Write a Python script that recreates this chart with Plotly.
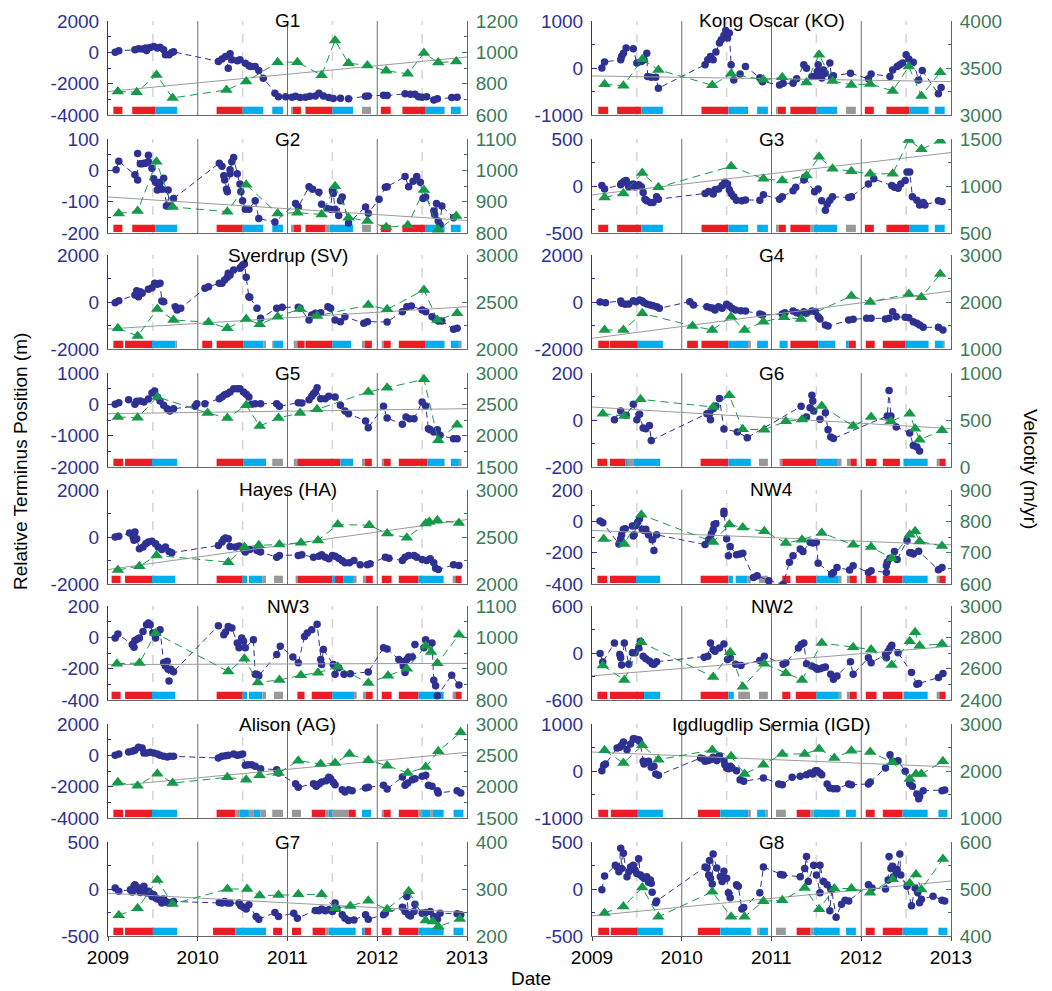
import plotly.graph_objects as go

# ---------------------------------------------------------------------------
# Data: relative terminus position (m) and surface velocity (m/yr) per glacier.
# Times are decimal years. Seasons: R = red, B = blue, G = gray bands.
# ---------------------------------------------------------------------------
R, B, G = "R", "B", "G"

G1_POS = [(2009.08, 0), (2009.12, 100), (2009.30, 160), (2009.34, 230), (2009.38, 210), (2009.42, 270),
          (2009.43, 120), (2009.47, 310), (2009.51, 380), (2009.55, 270), (2009.58, 330), (2009.62, 160),
          (2009.64, -160), (2009.68, -160), (2009.71, -10), (2009.73, 30), (2010.23, -580), (2010.27, -430),
          (2010.31, -260), (2010.34, -1010), (2010.36, -90), (2010.38, -480), (2010.44, -540), (2010.47, -480),
          (2010.53, -690), (2010.57, -860), (2010.59, -900), (2010.64, -900), (2010.68, -1160), (2010.73, -1650),
          (2010.86, -2610), (2010.90, -2830), (2010.98, -2830), (2011.05, -2870), (2011.09, -2800),
          (2011.14, -2890), (2011.20, -2870), (2011.25, -2800), (2011.31, -2780), (2011.35, -2610),
          (2011.40, -2780), (2011.46, -2890), (2011.51, -2950), (2011.59, -2930), (2011.68, -2970),
          (2011.87, -2800), (2011.90, -2780), (2012.07, -2740), (2012.11, -2760), (2012.31, -2650),
          (2012.37, -2680), (2012.42, -2680), (2012.46, -2830), (2012.50, -2870), (2012.55, -2830),
          (2012.63, -3040), (2012.67, -2970), (2012.83, -2890), (2012.89, -2870)]
G1_VEL = [(2009.11, 750), (2009.32, 745), (2009.54, 856), (2009.72, 709), (2010.32, 760), (2010.54, 814),
          (2010.89, 937), (2011.11, 937), (2011.38, 854), (2011.53, 1076), (2011.68, 931), (2011.89, 916),
          (2012.10, 882), (2012.34, 863), (2012.52, 995), (2012.68, 935), (2012.88, 942)]
G1_TREND = [750, 970]
G1_SEASONS = [(2009.06, 2009.16, R), (2009.27, 2009.53, R), (2009.53, 2009.77, B), (2010.21, 2010.50, R),
              (2010.50, 2010.73, B), (2010.83, 2010.95, B), (2011.04, 2011.06, G), (2011.06, 2011.15, R),
              (2011.20, 2011.50, R), (2011.50, 2011.73, B), (2011.83, 2011.93, G), (2012.04, 2012.15, R),
              (2012.28, 2012.54, R), (2012.54, 2012.75, B), (2012.82, 2012.93, B)]

KO_POS = [(2009.11, 0), (2009.14, 130), (2009.32, 175), (2009.33, 245), (2009.35, 315), (2009.38, 425),
          (2009.46, 410), (2009.50, 105), (2009.55, 140), (2009.58, 175), (2009.61, 315), (2009.62, -180),
          (2009.66, -195), (2009.71, -195), (2009.74, -430), (2010.26, 70), (2010.29, 175), (2010.32, 245),
          (2010.35, 175), (2010.38, 340), (2010.42, 530), (2010.44, 600), (2010.47, 690), (2010.49, 800),
          (2010.51, 640), (2010.53, 745), (2010.55, 70), (2010.58, -255), (2010.65, -130), (2010.71, 30),
          (2010.87, -205), (2010.90, -290), (2011.09, -360), (2011.13, -325), (2011.24, -325), (2011.28, -230),
          (2011.36, 70), (2011.39, -5), (2011.45, -180), (2011.49, -180), (2011.51, -75), (2011.52, 70),
          (2011.54, -95), (2011.56, -215), (2011.58, -40), (2011.60, -110), (2011.65, 105), (2011.67, -205),
          (2011.69, -165), (2011.88, -110), (2012.08, -230), (2012.11, -125), (2012.32, -180), (2012.35, -40),
          (2012.40, 30), (2012.43, 70), (2012.46, 105), (2012.50, 280), (2012.53, 190), (2012.58, 125),
          (2012.64, -255), (2012.68, -55), (2012.86, -550), (2012.89, -415)]
KO_VEL = [(2009.14, 3327), (2009.35, 3310), (2009.56, 3594), (2009.74, 3480), (2010.34, 3317), (2010.55, 3438),
          (2010.91, 3374), (2011.12, 3402), (2011.39, 3345), (2011.53, 3641), (2011.68, 3363), (2011.89, 3320),
          (2012.10, 3331), (2012.35, 3256), (2012.53, 3516), (2012.67, 3203), (2012.88, 3455)]
KO_TREND = [3416, 3356]
KO_SEASONS = [(2009.07, 2009.18, R), (2009.28, 2009.55, R), (2009.55, 2009.79, B), (2010.22, 2010.52, R),
              (2010.52, 2010.74, B), (2010.84, 2010.96, B), (2011.05, 2011.07, G), (2011.07, 2011.16, R),
              (2011.21, 2011.50, R), (2011.50, 2011.73, B), (2011.83, 2011.94, G), (2012.04, 2012.14, R),
              (2012.28, 2012.54, R), (2012.54, 2012.75, B), (2012.82, 2012.93, B)]

G2_POS = [(2009.09, 2), (2009.12, 29), (2009.30, -14), (2009.33, -31), (2009.33, 54), (2009.36, 21),
          (2009.38, 21), (2009.40, 23), (2009.42, 23), (2009.45, 48), (2009.45, 27), (2009.49, 7),
          (2009.51, -27), (2009.53, -38), (2009.55, -63), (2009.56, -44), (2009.58, -38), (2009.60, -60),
          (2009.62, -25), (2009.65, -114), (2009.67, -63), (2009.68, -114), (2009.73, -90), (2010.24, 23),
          (2010.27, 13), (2010.29, -17), (2010.30, -31), (2010.32, -60), (2010.33, -68), (2010.36, -11),
          (2010.36, 2), (2010.38, 27), (2010.40, 41), (2010.44, -11), (2010.47, -44), (2010.48, -68),
          (2010.50, -97), (2010.53, -124), (2010.57, -124), (2010.64, -97), (2010.68, -154), (2010.86, -165),
          (2011.09, -106), (2011.12, -117), (2011.24, -52), (2011.28, -60), (2011.35, -70), (2011.38, -108),
          (2011.44, -122), (2011.48, -124), (2011.50, -65), (2011.51, -74), (2011.53, -124), (2011.57, -144),
          (2011.59, -97), (2011.61, -85), (2011.68, -168), (2011.87, -117), (2011.90, -137), (2012.02, -92),
          (2012.09, -54), (2012.11, -52), (2012.31, -20), (2012.35, -52), (2012.40, -35), (2012.44, -20),
          (2012.48, -38), (2012.51, -90), (2012.54, -85), (2012.63, -130), (2012.64, -141), (2012.66, -106),
          (2012.68, -162), (2012.70, -173), (2012.72, -114), (2012.85, -151)]
G2_VEL = [(2009.12, 862), (2009.33, 870), (2009.54, 1027), (2009.72, 883), (2010.33, 868), (2010.54, 954),
          (2010.89, 862), (2011.11, 865), (2011.38, 859), (2011.53, 949), (2011.68, 849), (2011.89, 838),
          (2012.10, 818), (2012.34, 825), (2012.52, 937), (2012.68, 810), (2012.88, 854)]
G2_TREND = [915, 840]
G2_SEASONS = [(2009.06, 2009.16, R), (2009.27, 2009.53, R), (2009.53, 2009.77, B), (2010.21, 2010.50, R),
              (2010.50, 2010.73, B), (2010.83, 2010.95, B), (2011.04, 2011.07, G), (2011.07, 2011.15, R),
              (2011.20, 2011.42, R), (2011.42, 2011.47, G), (2011.47, 2011.73, B), (2011.83, 2011.93, G),
              (2012.04, 2012.15, R), (2012.28, 2012.54, R), (2012.54, 2012.75, B), (2012.82, 2012.93, B)]

G3_POS = [(2009.11, 4), (2009.14, -32), (2009.32, 14), (2009.33, 29), (2009.36, 50), (2009.38, 58),
          (2009.40, 22), (2009.41, -7), (2009.46, 22), (2009.48, -7), (2009.52, 14), (2009.55, -7),
          (2009.57, -68), (2009.59, -140), (2009.61, -158), (2009.65, -176), (2009.68, -176), (2009.72, -115),
          (2009.74, -140), (2010.26, -79), (2010.30, -58), (2010.35, -86), (2010.37, -40), (2010.41, -32),
          (2010.45, 4), (2010.48, 40), (2010.51, 22), (2010.53, -40), (2010.55, -79), (2010.58, -115),
          (2010.61, -151), (2010.67, -158), (2010.71, -148), (2010.87, -151), (2010.91, -94), (2011.09, -140),
          (2011.12, -115), (2011.24, -50), (2011.27, -14), (2011.36, 65), (2011.37, 94), (2011.48, -61),
          (2011.52, -32), (2011.56, -158), (2011.60, -259), (2011.62, -194), (2011.65, -151), (2011.68, -115),
          (2011.86, -122), (2011.89, -115), (2012.08, 22), (2012.14, 76), (2012.34, 4), (2012.37, -14),
          (2012.41, -25), (2012.44, 22), (2012.49, 58), (2012.51, 148), (2012.54, 148), (2012.57, -115),
          (2012.62, -151), (2012.65, -202), (2012.69, -176), (2012.71, -202), (2012.86, -158), (2012.90, -166)]
G3_VEL = [(2009.14, 878), (2009.35, 921), (2009.56, 1137), (2009.74, 986), (2010.55, 1209), (2010.91, 1076),
          (2011.12, 1058), (2011.39, 1112), (2011.53, 1310), (2011.68, 1184), (2011.89, 1158), (2012.10, 1130),
          (2012.35, 1130), (2012.53, 1490), (2012.67, 1392), (2012.88, 1482)]
G3_TREND = [906, 1356]
G3_SEASONS = [(2009.07, 2009.18, R), (2009.28, 2009.55, R), (2009.55, 2009.79, B), (2010.22, 2010.52, R),
              (2010.52, 2010.74, B), (2010.84, 2010.96, B), (2011.05, 2011.08, G), (2011.08, 2011.16, R),
              (2011.21, 2011.43, R), (2011.43, 2011.47, G), (2011.47, 2011.73, B), (2011.83, 2011.94, G),
              (2012.04, 2012.14, R), (2012.28, 2012.54, R), (2012.54, 2012.75, B), (2012.82, 2012.93, B)]

SV_POS = [(2009.08, -28), (2009.12, 57), (2009.30, 298), (2009.32, 482), (2009.34, 227), (2009.36, 440),
          (2009.38, 369), (2009.45, 539), (2009.49, 610), (2009.52, 794), (2009.55, 752), (2009.58, 794),
          (2009.60, 43), (2009.62, 14), (2009.75, -199), (2009.77, -340), (2009.81, -269), (2010.08, 581),
          (2010.12, 652), (2010.24, 794), (2010.27, 794), (2010.30, 936), (2010.33, 1049), (2010.34, 1219),
          (2010.36, 1149), (2010.40, 1361), (2010.47, 1432), (2010.48, 1475), (2010.50, 1574), (2010.52, 1617),
          (2010.54, 1049), (2010.57, 227), (2010.58, 199), (2010.66, -269), (2010.70, -695), (2010.88, -269),
          (2010.94, -227), (2011.12, -227), (2011.14, -269), (2011.24, -766), (2011.27, -553), (2011.31, -482),
          (2011.37, -454), (2011.45, -199), (2011.48, -269), (2011.53, -766), (2011.59, -837), (2011.64, -624),
          (2011.85, -908), (2011.89, -837), (2012.11, -851), (2012.28, -411), (2012.33, -199), (2012.38, -170),
          (2012.50, -340), (2012.54, -411), (2012.61, -624), (2012.65, -737), (2012.68, -808), (2012.72, -808),
          (2012.85, -1163), (2012.89, -1120)]
SV_VEL = [(2009.11, 2220), (2009.33, 2138), (2009.55, 2426), (2009.73, 2309), (2010.12, 2284), (2010.33, 2220),
          (2010.54, 2319), (2010.69, 2262), (2010.89, 2344), (2011.14, 2426), (2011.33, 2351), (2011.90, 2468),
          (2012.11, 2422), (2012.52, 2628), (2012.67, 2309), (2012.89, 2379)]
SV_TREND = [2213, 2450]
SV_SEASONS = [(2009.06, 2009.17, R), (2009.19, 2009.49, R), (2009.49, 2009.75, B), (2009.75, 2009.77, G),
              (2010.05, 2010.16, R), (2010.21, 2010.51, R), (2010.51, 2010.73, B), (2010.73, 2010.76, G),
              (2010.83, 2010.85, G), (2010.85, 2010.95, B), (2011.07, 2011.11, G), (2011.11, 2011.19, R),
              (2011.20, 2011.50, R), (2011.50, 2011.71, B), (2011.83, 2011.86, G), (2011.86, 2011.94, R),
              (2012.05, 2012.07, G), (2012.07, 2012.15, R), (2012.24, 2012.54, R), (2012.54, 2012.75, B),
              (2012.82, 2012.91, B), (2012.91, 2012.94, G)]

G4_POS = [(2009.09, 0), (2009.15, -28), (2009.32, 43), (2009.33, -57), (2009.37, -99), (2009.41, -85),
          (2009.46, 57), (2009.49, 14), (2009.53, 85), (2009.56, 43), (2009.58, -28), (2009.61, -85),
          (2009.65, -128), (2009.68, -156), (2009.72, -199), (2009.75, -269), (2010.09, 14), (2010.13, -128),
          (2010.28, -199), (2010.32, -241), (2010.35, -269), (2010.37, -340), (2010.41, -199), (2010.45, -269),
          (2010.50, -99), (2010.53, -170), (2010.56, -269), (2010.60, -340), (2010.66, -369), (2010.71, -383),
          (2010.87, -510), (2010.90, -553), (2011.12, -510), (2011.15, -454), (2011.24, -383), (2011.28, -454),
          (2011.32, -510), (2011.36, -411), (2011.39, -482), (2011.45, -383), (2011.49, -411), (2011.52, -624),
          (2011.54, -723), (2011.60, -978), (2011.63, -1021), (2011.86, -766), (2011.91, -737), (2012.06, -695),
          (2012.11, -695), (2012.27, -723), (2012.31, -695), (2012.35, -411), (2012.39, -624), (2012.49, -652),
          (2012.53, -666), (2012.58, -837), (2012.62, -908), (2012.65, -978), (2012.69, -1078), (2012.86, -1078),
          (2012.91, -1191)]
G4_VEL = [(2009.14, 1404), (2009.35, 1404), (2009.56, 1759), (2010.12, 1490), (2010.34, 1404), (2010.55, 1688),
          (2010.70, 1404), (2010.91, 1582), (2011.14, 1674), (2011.33, 1638), (2011.89, 2128), (2012.10, 2000),
          (2012.53, 2170), (2012.67, 2099), (2012.88, 2596)]
G4_TREND = [1227, 2234]
G4_SEASONS = [(2009.07, 2009.19, R), (2009.20, 2009.51, R), (2009.51, 2009.79, B), (2010.06, 2010.18, R),
              (2010.22, 2010.52, R), (2010.52, 2010.74, B), (2010.74, 2010.77, G), (2010.84, 2010.96, B),
              (2011.09, 2011.18, B), (2011.21, 2011.52, R), (2011.52, 2011.71, B), (2011.83, 2011.86, B),
              (2011.86, 2011.94, R), (2012.05, 2012.15, R), (2012.24, 2012.49, R), (2012.49, 2012.75, B),
              (2012.82, 2012.91, B), (2012.91, 2012.93, G)]

G5_POS = [(2009.08, 0), (2009.12, 53), (2009.23, 149), (2009.30, 0), (2009.32, 96), (2009.36, 106),
          (2009.40, 74), (2009.45, 170), (2009.49, 362), (2009.52, 426), (2009.55, 234), (2009.58, 106),
          (2009.62, -32), (2009.66, -138), (2009.69, -213), (2009.73, -138), (2009.97, -64), (2009.99, 21),
          (2010.08, 21), (2010.24, 181), (2010.27, 234), (2010.30, 309), (2010.33, 340), (2010.36, 394),
          (2010.40, 500), (2010.44, 500), (2010.47, 500), (2010.51, 394), (2010.54, 319), (2010.57, 234),
          (2010.60, 0), (2010.64, 21), (2010.70, 21), (2010.88, 21), (2010.91, -64), (2011.12, 53),
          (2011.16, 43), (2011.24, 149), (2011.27, 255), (2011.29, 340), (2011.31, 394), (2011.33, 532),
          (2011.37, 181), (2011.42, 181), (2011.46, 255), (2011.53, 234), (2011.59, -32), (2011.64, -213),
          (2011.68, -298), (2011.87, -532), (2011.90, -745), (2012.07, -64), (2012.11, -436), (2012.28, -638),
          (2012.32, -404), (2012.36, -458), (2012.41, -458), (2012.50, 74), (2012.54, -53), (2012.57, -777),
          (2012.59, -809), (2012.63, -883), (2012.67, -809), (2012.70, -990), (2012.85, -1096), (2012.89, -1096)]
G5_VEL = [(2009.11, 2298), (2009.33, 2287), (2009.55, 2617), (2010.11, 2362), (2010.33, 2282), (2010.54, 2484),
          (2010.69, 2154), (2010.90, 2282), (2011.14, 2362), (2011.33, 2420), (2011.90, 2697), (2012.11, 2766),
          (2012.52, 2899), (2012.68, 1925), (2012.89, 2175)]
G5_TREND = [2351, 2431]
G5_SEASONS = [(2009.06, 2009.17, R), (2009.19, 2009.49, R), (2009.49, 2009.77, B), (2010.21, 2010.51, R),
              (2010.51, 2010.76, B), (2010.83, 2010.95, G), (2011.07, 2011.11, G), (2011.11, 2011.59, R),
              (2011.59, 2011.73, B), (2011.83, 2011.86, G), (2011.86, 2011.94, R), (2012.05, 2012.07, G),
              (2012.07, 2012.15, R), (2012.24, 2012.56, R), (2012.56, 2012.75, B), (2012.82, 2012.91, B),
              (2012.91, 2012.94, G)]

G6_POS = [(2009.25, 1), (2009.32, 38), (2009.38, 20), (2009.46, 67), (2009.50, 1), (2009.53, 24),
          (2009.57, -34), (2009.60, -37), (2009.64, -23), (2009.66, -87), (2010.28, 27), (2010.31, 27),
          (2010.32, 1), (2010.35, 48), (2010.38, 60), (2010.42, 91), (2010.47, -38), (2010.62, -51),
          (2010.73, -75), (2011.33, 58), (2011.39, 13), (2011.43, 52), (2011.45, 105), (2011.46, 81),
          (2011.47, 38), (2011.54, 3), (2011.60, 31), (2011.63, -41), (2011.66, -72), (2011.69, -79),
          (2012.29, 17), (2012.31, 126), (2012.33, 17), (2012.39, -30), (2012.54, -55), (2012.58, -108),
          (2012.62, -115), (2012.65, -132)]
G6_VEL = [(2009.12, 567), (2009.36, 543), (2009.54, 720), (2010.35, 638), (2010.53, 762), (2010.68, 401),
          (2010.92, 397), (2011.16, 486), (2011.34, 504), (2011.56, 649), (2011.91, 436), (2012.11, 532),
          (2012.33, 486), (2012.54, 567), (2012.60, 408), (2012.65, 291), (2012.90, 390)]
G6_TREND = [638, 408]
G6_SEASONS = [(2009.06, 2009.17, R), (2009.20, 2009.37, R), (2009.37, 2009.40, B), (2009.40, 2009.46, G),
              (2009.46, 2009.76, B), (2010.21, 2010.52, R), (2010.52, 2010.77, B), (2010.86, 2010.96, G),
              (2011.09, 2011.12, G), (2011.12, 2011.50, R), (2011.50, 2011.73, B), (2011.73, 2011.78, G),
              (2011.84, 2011.88, G), (2011.88, 2011.95, R), (2012.05, 2012.17, R), (2012.24, 2012.43, R),
              (2012.47, 2012.74, B), (2012.84, 2012.87, G), (2012.87, 2012.94, R)]

HA_POS = [(2009.08, 0), (2009.12, 29), (2009.24, 171), (2009.28, 0), (2009.29, -143), (2009.30, 214),
          (2009.32, -71), (2009.35, -500), (2009.39, -429), (2009.42, -286), (2009.45, -214), (2009.49, -186),
          (2009.53, -286), (2009.56, -429), (2009.60, -529), (2009.64, -429), (2009.68, -614), (2009.71, -672),
          (2010.23, -357), (2010.27, -214), (2010.29, -100), (2010.31, -43), (2010.34, -71), (2010.36, -400),
          (2010.42, -429), (2010.46, -386), (2010.51, -529), (2010.53, -643), (2010.58, -529), (2010.66, -572),
          (2010.70, -643), (2010.88, -857), (2010.91, -786), (2011.12, -786), (2011.16, -757), (2011.29, -857),
          (2011.35, -814), (2011.38, -757), (2011.42, -857), (2011.46, -929), (2011.50, -786), (2011.53, -814),
          (2011.57, -900), (2011.61, -1015), (2011.64, -1100), (2011.69, -1100), (2011.74, -1000),
          (2011.81, -1186), (2011.89, -1186), (2011.92, -1143), (2012.09, -857), (2012.13, -900),
          (2012.28, -1000), (2012.31, -857), (2012.35, -786), (2012.41, -786), (2012.44, -857), (2012.50, -957),
          (2012.55, -1000), (2012.59, -929), (2012.63, -1100), (2012.65, -1329), (2012.68, -1386),
          (2012.85, -1186), (2012.91, -1215)]
HA_VEL = [(2009.11, 2150), (2009.35, 2189), (2009.54, 2304), (2010.34, 2232), (2010.52, 2393), (2010.68, 2411),
          (2010.91, 2421), (2011.15, 2439), (2011.34, 2464), (2011.56, 2632), (2011.91, 2625), (2012.11, 2536),
          (2012.33, 2493), (2012.54, 2643), (2012.58, 2661), (2012.67, 2679), (2012.91, 2650)]
HA_TREND = [2154, 2686]
HA_SEASONS = [(2009.04, 2009.14, R), (2009.19, 2009.49, R), (2009.49, 2009.75, B), (2010.21, 2010.50, R),
              (2010.50, 2010.55, B), (2010.57, 2010.72, B), (2010.72, 2010.76, G), (2010.85, 2010.95, G),
              (2011.09, 2011.11, G), (2011.11, 2011.50, R), (2011.50, 2011.53, B), (2011.53, 2011.62, R),
              (2011.62, 2011.74, B), (2011.74, 2011.77, G), (2011.84, 2011.87, G), (2011.87, 2011.95, R),
              (2012.05, 2012.16, R), (2012.24, 2012.46, R), (2012.46, 2012.74, B), (2012.84, 2012.87, G),
              (2012.87, 2012.94, R)]

NW4_POS = [(2009.09, 2), (2009.12, -9), (2009.30, -144), (2009.32, -111), (2009.33, -86), (2009.35, -51),
           (2009.37, -47), (2009.45, -30), (2009.46, -94), (2009.47, -86), (2009.49, -26), (2009.51, -4),
           (2009.53, 17), (2009.56, -51), (2009.58, -58), (2009.60, -51), (2009.63, -86), (2009.67, -118),
           (2009.69, -186), (2009.72, -86), (2010.26, -148), (2010.30, -118), (2010.32, -105), (2010.33, -79),
           (2010.35, -54), (2010.36, -21), (2010.38, -15), (2010.47, 49), (2010.47, 64), (2010.50, -111),
           (2010.52, -219), (2010.54, -161), (2010.61, -214), (2010.65, -208), (2010.68, -204), (2010.80, -358),
           (2010.84, -347), (2010.97, -379), (2011.13, -401), (2011.20, -261), (2011.24, -219), (2011.32, -176),
           (2011.35, -193), (2011.43, -133), (2011.46, -139), (2011.50, -133), (2011.52, -268), (2011.67, -336),
           (2011.69, -326), (2011.73, -294), (2011.87, -311), (2011.91, -283), (2012.08, -326), (2012.11, -315),
           (2012.28, -283), (2012.28, -326), (2012.29, -261), (2012.32, -236), (2012.37, -193), (2012.40, -244),
           (2012.51, -122), (2012.54, -201), (2012.56, -201), (2012.58, -208), (2012.64, -191), (2012.86, -309),
           (2012.90, -294)]
NW4_VEL = [(2009.13, 744), (2009.36, 728), (2009.55, 821), (2010.35, 734), (2010.53, 790), (2010.68, 780),
           (2010.92, 768), (2011.16, 731), (2011.34, 741), (2011.56, 763), (2011.91, 725), (2012.11, 718),
           (2012.34, 682), (2012.54, 757), (2012.60, 768), (2012.65, 736), (2012.90, 721)]
NW4_TREND = [771, 725]
NW4_SEASONS = [(2009.06, 2009.17, R), (2009.20, 2009.49, R), (2009.49, 2009.76, B), (2010.21, 2010.52, R),
               (2010.52, 2010.57, B), (2010.60, 2010.73, B), (2010.73, 2010.77, G), (2010.86, 2010.96, G),
               (2011.12, 2011.21, R), (2011.27, 2011.50, R), (2011.50, 2011.75, B), (2011.75, 2011.78, G),
               (2011.84, 2011.87, G), (2011.87, 2011.95, R), (2012.05, 2012.17, R), (2012.24, 2012.46, R),
               (2012.46, 2012.74, B), (2012.84, 2012.87, G), (2012.87, 2012.94, R)]

NW3_POS = [(2009.08, -4), (2009.11, 21), (2009.27, -46), (2009.29, -63), (2009.30, -21), (2009.33, -11),
           (2009.35, -4), (2009.39, 38), (2009.43, 80), (2009.45, 91), (2009.47, 80), (2009.50, 27),
           (2009.53, -4), (2009.58, 48), (2009.62, -162), (2009.64, -183), (2009.66, -152), (2009.67, -204),
           (2009.68, -278), (2009.70, -204), (2009.73, -219), (2010.23, 74), (2010.29, 17), (2010.31, 34),
           (2010.34, 69), (2010.38, 59), (2010.44, -36), (2010.46, -67), (2010.49, -4), (2010.51, -25),
           (2010.53, -67), (2010.62, -15), (2010.64, -236), (2010.66, -236), (2010.68, -246), (2010.88, -109),
           (2010.92, -57), (2011.06, -126), (2011.12, -162), (2011.19, 6), (2011.22, 27), (2011.27, 48),
           (2011.33, 84), (2011.37, -141), (2011.38, -173), (2011.40, -78), (2011.51, -173), (2011.53, -236),
           (2011.57, -194), (2011.63, -236), (2011.70, -232), (2011.90, -221), (2012.07, -67), (2012.11, -74),
           (2012.24, -141), (2012.28, -156), (2012.29, -183), (2012.31, -225), (2012.33, -141), (2012.35, -126),
           (2012.39, -126), (2012.42, -46), (2012.52, -67), (2012.54, -15), (2012.61, -36), (2012.63, -274),
           (2012.65, -309), (2012.67, -373), (2012.83, -242), (2012.91, -305)]
NW3_VEL = [(2009.10, 916), (2009.35, 918), (2009.53, 1013), (2010.34, 891), (2010.52, 932), (2010.67, 856),
           (2010.91, 864), (2011.15, 879), (2011.34, 887), (2011.56, 906), (2011.90, 854), (2012.12, 877),
           (2012.33, 900), (2012.54, 972), (2012.60, 953), (2012.67, 917), (2012.91, 1008)]
NW3_TREND = [913, 917]
NW3_SEASONS = [(2009.04, 2009.14, R), (2009.19, 2009.49, R), (2009.49, 2009.75, B), (2010.21, 2010.50, R),
               (2010.50, 2010.55, B), (2010.57, 2010.72, B), (2010.72, 2010.76, G), (2010.85, 2010.95, G),
               (2011.11, 2011.19, R), (2011.27, 2011.50, R), (2011.50, 2011.74, B), (2011.74, 2011.77, G),
               (2011.84, 2011.87, G), (2011.87, 2011.95, R), (2012.05, 2012.16, R), (2012.24, 2012.46, R),
               (2012.46, 2012.74, B), (2012.84, 2012.87, G), (2012.87, 2012.94, R)]

NW2_POS = [(2009.09, -6), (2009.12, -116), (2009.25, 128), (2009.31, -19), (2009.32, -61), (2009.33, -154),
           (2009.36, 128), (2009.41, -145), (2009.45, 2), (2009.48, 2), (2009.52, 65), (2009.54, 149),
           (2009.57, -40), (2009.60, -74), (2009.64, -103), (2009.67, -137), (2009.69, -145), (2009.72, -112),
           (2010.25, -53), (2010.29, -40), (2010.32, 128), (2010.35, 44), (2010.37, 23), (2010.42, 65),
           (2010.47, 116), (2010.51, -82), (2010.54, -61), (2010.60, -145), (2010.66, -158), (2010.87, -95),
           (2010.92, -40), (2011.13, -145), (2011.16, -124), (2011.30, 65), (2011.33, 107), (2011.36, 128),
           (2011.39, -137), (2011.45, -166), (2011.49, -187), (2011.51, -208), (2011.54, -200), (2011.57, -187),
           (2011.60, -179), (2011.66, -272), (2011.69, -335), (2011.73, -293), (2011.88, -112), (2011.91, -272),
           (2012.08, -61), (2012.11, -124), (2012.27, -19), (2012.28, -61), (2012.30, 23), (2012.32, 65),
           (2012.34, 99), (2012.41, 2), (2012.56, -250), (2012.62, -398), (2012.64, -389), (2012.86, -314),
           (2012.91, -263)]
NW2_VEL = [(2009.12, 2621), (2009.36, 2528), (2009.55, 2768), (2010.35, 2547), (2010.54, 2705), (2010.68, 2484),
           (2010.92, 2632), (2011.16, 2571), (2011.34, 2528), (2011.56, 2764), (2011.91, 2737), (2012.11, 2722),
           (2012.34, 2623), (2012.54, 2775), (2012.60, 2832), (2012.65, 2747), (2012.90, 2758)]
NW2_TREND = [2554, 2743]
NW2_SEASONS = [(2009.06, 2009.17, R), (2009.20, 2009.58, R), (2009.58, 2009.76, B), (2010.21, 2010.52, R),
               (2010.52, 2010.58, B), (2010.63, 2010.76, G), (2010.86, 2010.96, G), (2011.12, 2011.21, R),
               (2011.27, 2011.50, R), (2011.50, 2011.75, B), (2011.75, 2011.78, G), (2011.84, 2011.87, G),
               (2011.87, 2011.95, R), (2012.05, 2012.17, R), (2012.24, 2012.46, R), (2012.47, 2012.74, B),
               (2012.84, 2012.87, G), (2012.87, 2012.94, R)]

AG_POS = [(2009.08, 0), (2009.12, 85), (2009.23, 213), (2009.27, 255), (2009.30, 319), (2009.34, 511),
          (2009.38, 468), (2009.40, 149), (2009.43, 149), (2009.47, 192), (2009.51, 149), (2009.55, 85),
          (2009.58, 0), (2009.62, -64), (2009.66, -106), (2009.69, -64), (2009.73, -64), (2010.23, -170),
          (2010.27, -64), (2010.31, -21), (2010.34, 0), (2010.40, 85), (2010.44, 0), (2010.47, 43),
          (2010.50, 85), (2010.53, -638), (2010.56, -596), (2010.60, -596), (2010.64, -702), (2010.70, -851),
          (2010.88, -915), (2010.90, -1128), (2011.09, -1809), (2011.12, -2043), (2011.29, -1809),
          (2011.32, -1979), (2011.35, -1830), (2011.38, -1702), (2011.43, -1617), (2011.46, -1404),
          (2011.48, -1490), (2011.51, -1724), (2011.53, -1873), (2011.61, -2192), (2011.64, -2341),
          (2011.68, -2192), (2011.72, -2256), (2011.87, -2085), (2011.90, -2043), (2012.07, -1915),
          (2012.11, -2149), (2012.28, -1383), (2012.31, -1915), (2012.34, -1766), (2012.39, -1553),
          (2012.42, -1490), (2012.50, -1341), (2012.54, -1277), (2012.57, -1915), (2012.61, -1979),
          (2012.67, -2256), (2012.68, -2405), (2012.89, -2256), (2012.93, -2405)]
AG_VEL = [(2009.11, 2069), (2009.33, 2016), (2009.55, 2207), (2009.72, 2058), (2010.33, 2149), (2010.54, 2112),
          (2010.69, 2181), (2010.90, 2218), (2011.12, 2415), (2011.37, 2362), (2011.53, 2378), (2011.69, 2521),
          (2011.90, 2420), (2012.11, 2335), (2012.34, 2218), (2012.54, 2314), (2012.68, 2564), (2012.93, 2867)]
AG_TREND = [2005, 2548]
AG_SEASONS = [(2009.06, 2009.17, R), (2009.19, 2009.49, R), (2009.49, 2009.77, B), (2010.21, 2010.42, R),
              (2010.42, 2010.47, G), (2010.47, 2010.57, B), (2010.57, 2010.62, G), (2010.62, 2010.70, B),
              (2010.70, 2010.76, G), (2010.83, 2010.95, G), (2011.05, 2011.15, G), (2011.27, 2011.42, R),
              (2011.42, 2011.46, G), (2011.46, 2011.50, B), (2011.50, 2011.68, G), (2011.68, 2011.76, R),
              (2011.83, 2011.93, B), (2012.05, 2012.07, G), (2012.07, 2012.15, R), (2012.24, 2012.46, R),
              (2012.46, 2012.50, G), (2012.50, 2012.59, B), (2012.59, 2012.62, G), (2012.62, 2012.74, B),
              (2012.85, 2012.96, B)]

IGD_POS = [(2009.11, 7), (2009.13, 121), (2009.15, 149), (2009.28, 489), (2009.31, 503), (2009.33, 546),
           (2009.35, 617), (2009.39, 454), (2009.43, 574), (2009.46, 688), (2009.48, 681), (2009.52, 666),
           (2009.53, 631), (2009.57, 206), (2009.58, 149), (2009.60, 184), (2009.63, 206), (2009.66, 78),
           (2009.69, 99), (2009.71, -64), (2009.74, -92), (2010.21, 277), (2010.24, 262), (2010.26, 206),
           (2010.29, 220), (2010.32, 241), (2010.35, 291), (2010.39, 220), (2010.42, 326), (2010.47, 220),
           (2010.48, 135), (2010.50, 64), (2010.52, 50), (2010.54, 99), (2010.56, 64), (2010.61, 7),
           (2010.65, -184), (2010.69, -220), (2010.91, -149), (2011.08, -277), (2011.12, -291), (2011.23, -135),
           (2011.32, -113), (2011.39, -78), (2011.43, -43), (2011.46, -64), (2011.49, 7), (2011.51, 7),
           (2011.54, -43), (2011.56, -78), (2011.62, -277), (2011.65, -362), (2011.69, -376), (2011.73, -376),
           (2011.86, -277), (2011.89, -291), (2012.08, -277), (2012.10, -234), (2012.27, 64), (2012.32, 347),
           (2012.35, 206), (2012.41, 220), (2012.49, -7), (2012.54, -269), (2012.57, -326), (2012.62, -489),
           (2012.64, -588), (2012.65, -539), (2012.69, -418), (2012.90, -418), (2012.93, -404)]
IGD_VEL = [(2009.14, 2440), (2009.35, 2170), (2009.56, 2546), (2009.74, 2241), (2010.34, 2447), (2010.55, 2312),
           (2010.70, 1936), (2010.91, 2135), (2011.12, 2362), (2011.37, 2362), (2011.53, 2468), (2011.70, 2277),
           (2011.89, 2432), (2012.10, 2404), (2012.35, 2184), (2012.54, 1830), (2012.61, 1936), (2012.67, 1936),
           (2012.91, 2206)]
IGD_TREND = [2404, 2085]
IGD_SEASONS = [(2009.07, 2009.18, R), (2009.21, 2009.51, R), (2009.51, 2009.79, B), (2010.18, 2010.43, R),
               (2010.43, 2010.74, B), (2010.74, 2010.77, G), (2010.84, 2010.93, B), (2010.93, 2010.96, G),
               (2011.05, 2011.16, G), (2011.28, 2011.43, R), (2011.43, 2011.47, G), (2011.47, 2011.76, B),
               (2011.83, 2011.94, B), (2012.05, 2012.15, R), (2012.24, 2012.46, R), (2012.46, 2012.74, B),
               (2012.86, 2012.96, B)]

G7_POS = [(2009.08, 11), (2009.12, -25), (2009.25, -7), (2009.27, -32), (2009.29, 29), (2009.30, 46),
          (2009.32, 21), (2009.34, -7), (2009.36, -36), (2009.38, 11), (2009.40, 29), (2009.42, -25),
          (2009.43, -43), (2009.45, -25), (2009.47, -43), (2009.49, -79), (2009.51, -61), (2009.53, -96),
          (2009.55, -107), (2009.58, -114), (2009.60, -150), (2009.62, -107), (2009.64, -132), (2009.66, -143),
          (2009.69, -150), (2009.73, -132), (2010.24, -143), (2010.27, -150), (2010.30, -132), (2010.33, -150),
          (2010.36, -150), (2010.46, -150), (2010.48, -179), (2010.51, -193), (2010.54, -214), (2010.57, -168),
          (2010.65, -293), (2010.68, -321), (2010.86, -250), (2010.90, -293), (2011.07, -257), (2011.11, -311),
          (2011.31, -229), (2011.35, -232), (2011.38, -214), (2011.42, -232), (2011.46, -221), (2011.50, -239),
          (2011.53, -150), (2011.55, -204), (2011.61, -275), (2011.64, -311), (2011.68, -336), (2011.74, -329),
          (2011.87, -275), (2011.90, -321), (2012.07, -275), (2012.09, -257), (2012.28, -193), (2012.31, -239),
          (2012.33, -79), (2012.35, -275), (2012.37, -286), (2012.41, -239), (2012.42, -161), (2012.50, -257),
          (2012.54, -250), (2012.59, -239), (2012.63, -293), (2012.67, -321), (2012.70, -257), (2012.89, -264),
          (2012.93, -275)]
G7_VEL = [(2009.12, 244), (2009.33, 259), (2009.55, 319), (2009.72, 268), (2010.33, 300), (2010.55, 300),
          (2010.69, 286), (2010.90, 287), (2011.12, 289), (2011.38, 289), (2011.53, 259), (2011.70, 264),
          (2011.90, 275), (2012.11, 257), (2012.35, 295), (2012.54, 233), (2012.62, 231), (2012.68, 220),
          (2012.92, 236)]
G7_TREND = [291, 250]
G7_SEASONS = [(2009.06, 2009.17, R), (2009.19, 2009.50, R), (2009.50, 2009.77, B), (2010.17, 2010.42, R),
              (2010.42, 2010.76, B), (2010.84, 2010.94, R), (2011.05, 2011.15, R), (2011.28, 2011.42, R),
              (2011.42, 2011.46, G), (2011.46, 2011.76, B), (2011.83, 2011.86, B), (2011.86, 2011.93, R),
              (2012.05, 2012.16, R), (2012.24, 2012.46, R), (2012.46, 2012.74, B), (2012.85, 2012.96, B)]

G8_POS = [(2009.11, -7), (2009.14, 138), (2009.26, 252), (2009.28, 234), (2009.30, 183), (2009.32, 434),
          (2009.33, 217), (2009.35, 379), (2009.39, 131), (2009.41, 183), (2009.43, 234), (2009.46, 252),
          (2009.48, 200), (2009.50, 166), (2009.52, 321), (2009.54, 148), (2009.56, 131), (2009.58, 114),
          (2009.61, 131), (2009.63, 72), (2009.65, 97), (2009.66, 62), (2009.67, -34), (2009.71, -145),
          (2009.72, -128), (2010.26, 234), (2010.28, 224), (2010.30, 148), (2010.31, 303), (2010.32, 114),
          (2010.34, 52), (2010.35, 372), (2010.39, 224), (2010.43, 131), (2010.45, 79), (2010.47, 190),
          (2010.47, 121), (2010.50, 114), (2010.52, -41), (2010.54, -93), (2010.61, 45), (2010.63, 28),
          (2010.67, -214), (2010.69, -197), (2010.87, -41), (2010.91, 234), (2011.10, 155), (2011.13, 148),
          (2011.32, 131), (2011.37, 217), (2011.39, 345), (2011.41, 79), (2011.47, 252), (2011.50, 148),
          (2011.54, 252), (2011.54, -41), (2011.58, 79), (2011.62, 45), (2011.65, -231), (2011.67, -7),
          (2011.72, -300), (2011.78, -162), (2011.82, -121), (2011.86, -128), (2012.08, 45), (2012.12, 10),
          (2012.27, 0), (2012.30, 97), (2012.31, 345), (2012.33, 217), (2012.35, 241), (2012.36, 131),
          (2012.39, 183), (2012.40, 207), (2012.43, 372), (2012.44, 148), (2012.51, 28), (2012.56, -179),
          (2012.60, 10), (2012.63, -41), (2012.65, -145), (2012.67, -110), (2012.80, -76), (2012.90, -121),
          (2012.93, -128)]
G8_VEL = [(2009.14, 449), (2009.35, 463), (2009.56, 503), (2009.74, 441), (2010.34, 494), (2010.55, 441),
          (2010.70, 441), (2010.91, 474), (2011.12, 476), (2011.37, 502), (2011.53, 457), (2011.70, 501),
          (2011.89, 501), (2012.10, 492), (2012.35, 521), (2012.54, 512), (2012.61, 531), (2012.67, 499),
          (2012.91, 564)]
G8_TREND = [443, 517]
G8_SEASONS = [(2009.07, 2009.19, R), (2009.21, 2009.51, R), (2009.51, 2009.79, B), (2010.18, 2010.43, R),
              (2010.43, 2010.77, B), (2010.84, 2010.87, G), (2010.87, 2010.96, B), (2011.05, 2011.16, G),
              (2011.28, 2011.43, R), (2011.43, 2011.47, G), (2011.47, 2011.76, B), (2011.83, 2011.94, B),
              (2012.05, 2012.15, R), (2012.24, 2012.46, R), (2012.46, 2012.74, B), (2012.86, 2012.96, B)]

# Axis scales per glacier: (min, max, step) for terminus (left) and velocity (right)
TERM_SCALE = {"G1": (-4000, 2000, 2000), "KO": (-1000, 1000, 1000), "G2": (-200, 100, 100),
              "G3": (-500, 500, 500), "SV": (-2000, 2000, 2000), "G4": (-2000, 2000, 2000),
              "G5": (-2000, 1000, 1000), "G6": (-200, 200, 200), "HA": (-2000, 2000, 2000),
              "NW4": (-400, 200, 200), "NW3": (-400, 200, 200), "NW2": (-600, 600, 600),
              "AG": (-4000, 2000, 2000), "IGD": (-1000, 1000, 1000), "G7": (-500, 500, 500),
              "G8": (-500, 500, 500)}
VEL_SCALE = {"G1": (600, 1200, 200), "KO": (3000, 4000, 500), "G2": (800, 1100, 100),
             "G3": (500, 1500, 500), "SV": (2000, 3000, 500), "G4": (1000, 3000, 1000),
             "G5": (1500, 3000, 500), "G6": (0, 1000, 500), "HA": (2000, 3000, 500),
             "NW4": (600, 900, 100), "NW3": (800, 1100, 100), "NW2": (2400, 3000, 200),
             "AG": (1500, 3000, 500), "IGD": (1000, 3000, 1000), "G7": (200, 400, 100),
             "G8": (400, 600, 100)}

TITLES = {"G1": "G1", "KO": "Kong Oscar (KO)", "G2": "G2", "G3": "G3", "SV": "Sverdrup (SV)",
          "G4": "G4", "G5": "G5", "G6": "G6", "HA": "Hayes (HA)", "NW4": "NW4", "NW3": "NW3",
          "NW2": "NW2", "AG": "Alison (AG)", "IGD": "Igdlugdlip Sermia (IGD)", "G7": "G7", "G8": "G8"}

SERIES = {"G1": (G1_POS, G1_VEL, G1_TREND, G1_SEASONS), "KO": (KO_POS, KO_VEL, KO_TREND, KO_SEASONS),
          "G2": (G2_POS, G2_VEL, G2_TREND, G2_SEASONS), "G3": (G3_POS, G3_VEL, G3_TREND, G3_SEASONS),
          "SV": (SV_POS, SV_VEL, SV_TREND, SV_SEASONS), "G4": (G4_POS, G4_VEL, G4_TREND, G4_SEASONS),
          "G5": (G5_POS, G5_VEL, G5_TREND, G5_SEASONS), "G6": (G6_POS, G6_VEL, G6_TREND, G6_SEASONS),
          "HA": (HA_POS, HA_VEL, HA_TREND, HA_SEASONS), "NW4": (NW4_POS, NW4_VEL, NW4_TREND, NW4_SEASONS),
          "NW3": (NW3_POS, NW3_VEL, NW3_TREND, NW3_SEASONS), "NW2": (NW2_POS, NW2_VEL, NW2_TREND, NW2_SEASONS),
          "AG": (AG_POS, AG_VEL, AG_TREND, AG_SEASONS), "IGD": (IGD_POS, IGD_VEL, IGD_TREND, IGD_SEASONS),
          "G7": (G7_POS, G7_VEL, G7_TREND, G7_SEASONS), "G8": (G8_POS, G8_VEL, G8_TREND, G8_SEASONS)}

GRID = [["G1", "KO"], ["G2", "G3"], ["SV", "G4"], ["G5", "G6"],
        ["HA", "NW4"], ["NW3", "NW2"], ["AG", "IGD"], ["G7", "G8"]]

YEARS = [2009, 2010, 2011, 2012, 2013]
MID_YEARS = [2009.5, 2010.5, 2011.5, 2012.5]

# ---------------------------------------------------------------------------
# Styling and page geometry (pixels)
# ---------------------------------------------------------------------------
W, H = 1052, 991
COL_X = [(108, 467), (592, 951)]
ROW_TOP = [21, 139, 255, 373, 490, 606, 724, 842]
PANEL_H = 94

BLUE = "#2e3192"
GREEN_MARK = "#17994a"
GREEN_AXIS = "#3c7b58"
SEASON_COLORS = {R: "#ed1c24", B: "#00aeef", G: "#999999"}
FONT = "Liberation Sans, Arial, Helvetica, sans-serif"
FS = 19

fig = go.Figure()
layout = dict(width=W, height=H, margin=dict(l=0, r=0, t=0, b=0, pad=0, autoexpand=False),
              paper_bgcolor="white", plot_bgcolor="white", showlegend=False,
              font=dict(family=FONT, size=FS, color="black"))
shapes, annotations = [], []


def ticks(lo, hi, step):
    vals = list(range(lo, hi + 1, step))
    return vals, [str(v) for v in vals]


for r, row in enumerate(GRID):
    for c, key in enumerate(row):
        i = r * 2 + c
        xn, yl, yr = i + 1, 2 * i + 1, 2 * i + 2
        xid = "x" if xn == 1 else f"x{xn}"
        ylid = "y" if yl == 1 else f"y{yl}"
        yrid = f"y{yr}"
        xkey = "xaxis" if xn == 1 else f"xaxis{xn}"
        ylkey = "yaxis" if yl == 1 else f"yaxis{yl}"
        yrkey = f"yaxis{yr}"

        x0, x1 = COL_X[c]
        top = ROW_TOP[r]
        ydom = [1 - (top + PANEL_H) / H, 1 - top / H]
        bottom_row = r == len(GRID) - 1

        layout[xkey] = dict(domain=[x0 / W, x1 / W], range=[2009, 2013], anchor=ylid,
                            automargin=False,
                            showline=True, linecolor="#666666", linewidth=1, showgrid=False,
                            zeroline=False, tickmode="array", tickvals=YEARS,
                            ticktext=[str(y) for y in YEARS], showticklabels=bottom_row,
                            ticks="outside" if bottom_row else "", ticklen=4, tickcolor="#444444",
                            tickfont=dict(size=FS, color="black"))

        tlo, thi, tstep = TERM_SCALE[key]
        tv, tt = ticks(tlo, thi, tstep)
        layout[ylkey] = dict(domain=ydom, range=[tlo, thi], anchor=xid, side="left",
                             automargin=False,
                             showline=True, linecolor=BLUE, linewidth=1, showgrid=False,
                             zeroline=False, tickmode="array", tickvals=tv, ticktext=tt,
                             ticks="inside", ticklen=5, tickcolor=BLUE, ticklabelstandoff=4,
                             minor=dict(ticks="inside", ticklen=3, tickcolor=BLUE,
                                        tickmode="linear", tick0=tlo, dtick=tstep / 2),
                             tickfont=dict(size=FS, color=BLUE))

        vlo, vhi, vstep = VEL_SCALE[key]
        vv, vt = ticks(vlo, vhi, vstep)
        layout[yrkey] = dict(range=[vlo, vhi], anchor=xid, overlaying=ylid, side="right",
                             automargin=False,
                             showline=True, linecolor=GREEN_AXIS, linewidth=1, showgrid=False,
                             zeroline=False, tickmode="array", tickvals=vv, ticktext=vt,
                             ticks="inside", ticklen=5, tickcolor=GREEN_AXIS, ticklabelstandoff=4,
                             minor=dict(ticks="inside", ticklen=3, tickcolor=GREEN_AXIS,
                                        tickmode="linear", tick0=vlo, dtick=vstep / 2),
                             tickfont=dict(size=FS, color=GREEN_AXIS))

        pos, vel, trend, seasons = SERIES[key]

        # mid-year guides and year separators
        for m in MID_YEARS:
            shapes.append(dict(type="line", xref=xid, yref=f"{ylid} domain", x0=m, x1=m, y0=0, y1=1,
                               line=dict(color="#d4d4d4", width=1.5, dash="dash"), layer="below"))
        for yv in YEARS[1:-1]:
            shapes.append(dict(type="line", xref=xid, yref=f"{ylid} domain", x0=yv, x1=yv, y0=0, y1=1,
                               line=dict(color="#6e6e6e", width=1), layer="below"))
        # season bands along the bottom
        for s0, s1, code in seasons:
            shapes.append(dict(type="rect", xref=xid, yref=f"{ylid} domain", x0=s0, x1=s1,
                               y0=0.01, y1=0.088, fillcolor=SEASON_COLORS[code],
                               line=dict(width=0), layer="below"))

        pos_sorted = sorted(pos)
        vel_sorted = sorted(vel)

        fig.add_trace(go.Scatter(x=[p[0] for p in pos_sorted], y=[p[1] for p in pos_sorted],
                                 xaxis=xid, yaxis=ylid, mode="lines+markers",
                                 line=dict(color=BLUE, width=1, dash="6px,4px"),
                                 marker=dict(color=BLUE, size=7.5, symbol="circle"),
                                 hoverinfo="x+y"))
        fig.add_trace(go.Scatter(x=[YEARS[0], YEARS[-1]], y=trend, xaxis=xid, yaxis=yrid,
                                 mode="lines", line=dict(color="#9a9a9a", width=1),
                                 hoverinfo="skip"))
        fig.add_trace(go.Scatter(x=[v[0] for v in vel_sorted], y=[v[1] for v in vel_sorted],
                                 xaxis=xid, yaxis=yrid, mode="lines+markers",
                                 line=dict(color=GREEN_MARK, width=1, dash="8px,5px"),
                                 marker=dict(color=GREEN_MARK, size=11, symbol="triangle-up"),
                                 hoverinfo="x+y"))

        annotations.append(dict(text=TITLES[key], xref=f"{xid} domain", yref=f"{ylid} domain",
                                x=0.5, y=1.0, xanchor="center", yanchor="middle", showarrow=False,
                                font=dict(size=FS, color="black"), bgcolor="rgba(0,0,0,0)"))

annotations.append(dict(text="Relative Terminus Position (m)", xref="paper", yref="paper",
                        x=20 / W, y=1 - 462 / H, textangle=-90, showarrow=False,
                        xanchor="center", yanchor="middle", font=dict(size=FS, color="black")))
annotations.append(dict(text="Velcotiy (m/yr)", xref="paper", yref="paper",
                        x=1031 / W, y=1 - 469 / H, textangle=90, showarrow=False,
                        xanchor="center", yanchor="middle", font=dict(size=FS, color="black")))
annotations.append(dict(text="Date", xref="paper", yref="paper", x=531 / W, y=1 - 978 / H,
                        showarrow=False, xanchor="center", yanchor="middle",
                        font=dict(size=FS, color="black")))

layout["shapes"] = shapes
layout["annotations"] = annotations
fig.update_layout(**layout)
fig.write_html("out.html")
